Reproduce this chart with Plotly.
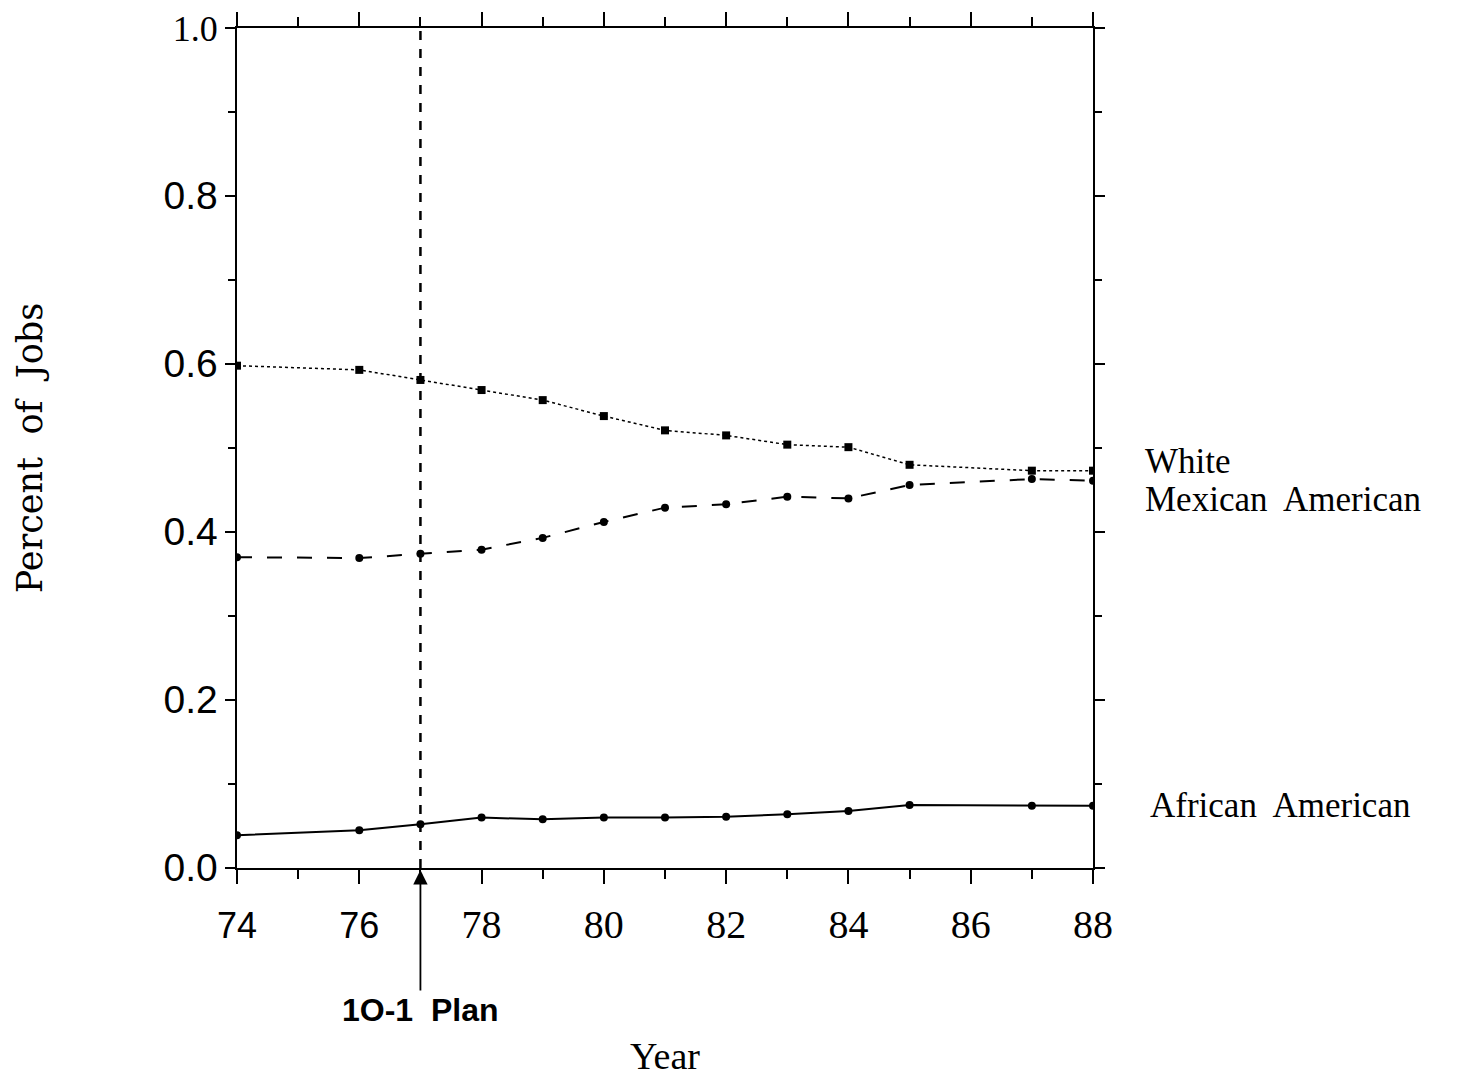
import plotly.graph_objects as go

years = [74, 76, 77, 78, 79, 80, 81, 82, 83, 84, 85, 87, 88]
white = [0.598, 0.593, 0.581, 0.569, 0.557, 0.538, 0.521, 0.515, 0.504, 0.501, 0.480, 0.473, 0.473]
mexican = [0.370, 0.369, 0.374, 0.379, 0.393, 0.412, 0.429, 0.433, 0.442, 0.440, 0.456, 0.463, 0.461]
african = [0.039, 0.045, 0.052, 0.060, 0.058, 0.060, 0.060, 0.061, 0.064, 0.068, 0.075, 0.074, 0.074]

x_ticks = [74, 76, 78, 80, 82, 84, 86, 88]
x_tick_labels = ["74", "76", "78", "80", "82", "84", "86", "88"]
y_ticks = [0.0, 0.2, 0.4, 0.6, 0.8, 1.0]
y_tick_labels = ["0.0", "0.2", "0.4", "0.6", "0.8", "1.0"]
plan_year = 77

SANS = "Liberation Sans, Arial, sans-serif"
SERIF = "Liberation Serif, Times New Roman, serif"

def sans(t, size):
    return f'<span style="font-family:{SANS};font-size:{size}px">{t}</span>'

xt = [sans(t, 36) if t in ("74", "76") else t for t in x_tick_labels]
yt = [t if t == "1.0" else sans(t, 39) for t in y_tick_labels]

fig = go.Figure()
fig.add_trace(go.Scatter(x=years, y=white, mode="lines+markers",
                         line=dict(color="black", width=1.5, dash="dot"),
                         marker=dict(symbol="square", size=8, color="black"),
                         name="White"))
fig.add_trace(go.Scatter(x=years, y=mexican, mode="lines+markers",
                         line=dict(color="black", width=2, dash="longdash"),
                         marker=dict(symbol="circle", size=8, color="black"),
                         name="Mexican American"))
fig.add_trace(go.Scatter(x=years, y=african, mode="lines+markers",
                         line=dict(color="black", width=2),
                         marker=dict(symbol="circle", size=8, color="black"),
                         name="African American"))

fig.add_shape(type="line", xref="x", yref="paper", x0=plan_year, x1=plan_year, y0=0, y1=1,
              line=dict(color="black", width=2.5, dash="dash"))

fig.add_annotation(x=plan_year, y=0, xref="x", yref="paper", text="<b>1O-1  Plan</b>",
                   showarrow=True, ax=0, ay=142, arrowhead=2, arrowsize=1.6, arrowwidth=1.8,
                   standoff=2, arrowcolor="black", font=dict(family=SANS, size=32, color="black"))

label_font = dict(family=SERIF, size=35, color="black")
fig.add_annotation(x=88, y=white[-1], xref="x", yref="y", text="White", showarrow=False,
                   xanchor="left", xshift=50, yshift=9, font=label_font)
fig.add_annotation(x=88, y=mexican[-1], xref="x", yref="y", text="Mexican  American", showarrow=False,
                   xanchor="left", xshift=50, yshift=-19, font=label_font)
fig.add_annotation(x=88, y=african[-1], xref="x", yref="y", text="African  American", showarrow=False,
                   xanchor="left", xshift=55, yshift=0, font=label_font)

fig.update_xaxes(range=[74, 88], tickmode="array", tickvals=x_ticks, ticktext=xt,
                 showline=True, linecolor="black", linewidth=2, mirror="ticks",
                 ticks="outside", ticklen=14, tickwidth=1.5, tickcolor="black",
                 showgrid=False, zeroline=False, ticklabelstandoff=6, automargin=False,
                 ticklabeloverflow="allow",
                 tickfont=dict(family=SERIF, size=40, color="black"),
                 minor=dict(dtick=1, tick0=74, ticks="outside", ticklen=9, tickwidth=1.5, tickcolor="black", showgrid=False),
                 title=dict(text="Year", font=dict(family=SERIF, size=38, color="black"), standoff=96))
fig.update_yaxes(range=[0, 1], tickmode="array", tickvals=y_ticks, ticktext=yt,
                 showline=True, linecolor="black", linewidth=2, mirror="ticks",
                 ticks="outside", ticklen=10, tickwidth=1.5, tickcolor="black",
                 showgrid=False, zeroline=False, ticklabelstandoff=0, automargin=False,
                 ticklabeloverflow="allow",
                 tickfont=dict(family=SERIF, size=36, color="black"),
                 minor=dict(dtick=0.1, tick0=0, ticks="outside", ticklen=7, tickwidth=1.5, tickcolor="black", showgrid=False),
                 title=dict(text="Percent  of  Jobs",
                            font=dict(family="DejaVu Serif, serif", size=35, color="black"), standoff=110))

fig.update_layout(width=1463, height=1077, showlegend=False,
                  plot_bgcolor="white", paper_bgcolor="white",
                  margin=dict(l=229, r=378, t=20, b=217))

fig.write_html("out.html")
